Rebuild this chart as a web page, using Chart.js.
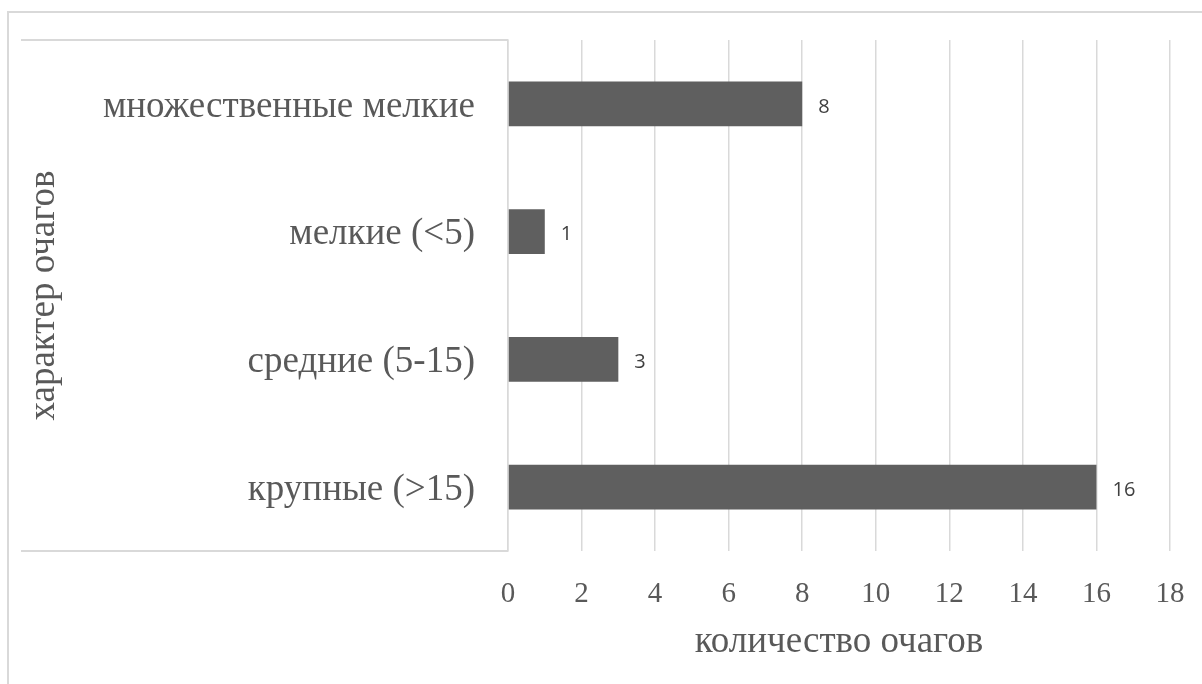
<!DOCTYPE html>
<html lang="ru">
<head>
<meta charset="utf-8">
<title>Характер очагов</title>
<script src="https://cdn.jsdelivr.net/npm/chart.js@4.4.1/dist/chart.umd.min.js"></script>
<style>
  html, body { margin: 0; padding: 0; background: #ffffff; }
  #wrap { position: relative; width: 1202px; height: 684px; overflow: hidden; }
  #frame {
    position: absolute; left: 7px; top: 11px; width: 1300px; height: 800px;
    border-top: 2px solid #d9d9d9; border-left: 2px solid #d9d9d9;
    box-sizing: border-box; pointer-events: none;
  }
  canvas { position: absolute; left: 0; top: 0; }
</style>
</head>
<body>
<div id="wrap">
  <div id="frame"></div>
  <canvas id="chart" width="1202" height="684"></canvas>
</div>
<script>
// Категории (сверху вниз) и количество очагов
const categories = ['множественные мелкие', 'мелкие (<5)', 'средние (5-15)', 'крупные (>15)'];
const counts = [8, 1, 3, 16];
const xTicks = [0, 2, 4, 6, 8, 10, 12, 14, 16, 18];
const xTitle = 'количество очагов';
const yTitle = 'характер очагов';

const serif = '"Liberation Serif", "Times New Roman", serif';

// Не даём подписям делений раздвигать область построения
function noScalePadding(scale) {
  scale.paddingTop = 0;
  scale.paddingBottom = 0;
  scale.paddingLeft = 0;
  scale.paddingRight = 0;
}

// Рамка области подписей категорий и подписи значений у столбцов
const decorations = {
  id: 'decorations',
  afterDraw(chart) {
    const { ctx, chartArea } = chart;
    ctx.save();
    ctx.strokeStyle = '#d9d9d9';
    ctx.lineWidth = 2;
    ctx.beginPath();
    ctx.moveTo(21, chartArea.top);
    ctx.lineTo(chartArea.left, chartArea.top);
    ctx.moveTo(21, chartArea.bottom);
    ctx.lineTo(chartArea.left, chartArea.bottom);
    ctx.stroke();

    const meta = chart.getDatasetMeta(0);
    ctx.fillStyle = '#404040';
    ctx.font = '20px "Open Sans", sans-serif';
    ctx.textAlign = 'left';
    ctx.textBaseline = 'middle';
    meta.data.forEach((bar, i) => {
      ctx.fillText(String(chart.data.datasets[0].data[i]), bar.x + 16, bar.y + 3);
    });
    ctx.restore();
  }
};

new Chart(document.getElementById('chart'), {
  type: 'bar',
  data: {
    labels: categories,
    datasets: [{
      data: counts,
      backgroundColor: '#5f5f5f',
      borderWidth: 0,
      categoryPercentage: 0.7,
      barPercentage: 0.5
    }]
  },
  options: {
    indexAxis: 'y',
    responsive: false,
    animation: false,
    layout: { padding: { top: 40, right: 32, bottom: 20, left: 22 } },
    plugins: {
      legend: { display: false },
      tooltip: { enabled: false }
    },
    scales: {
      x: {
        min: 0,
        max: 18,
        afterBuildTicks(scale) { scale.ticks = xTicks.map(v => ({ value: v })); },
        afterFit(scale) { scale.height = 113; noScalePadding(scale); },
        grid: { color: '#d9d9d9', lineWidth: 1.5, drawTicks: false },
        border: { display: false },
        ticks: {
          padding: 26,
          color: '#595959',
          font: { family: serif, size: 29 },
          maxRotation: 0
        },
        title: {
          display: true,
          text: xTitle,
          color: '#595959',
          font: { family: serif, size: 37 },
          padding: 0
        }
      },
      y: {
        afterFit(scale) { scale.width = 486; noScalePadding(scale); },
        grid: { display: false, drawTicks: false },
        border: { display: true, color: '#d9d9d9', width: 1.5 },
        ticks: {
          padding: 33,
          labelOffset: 3,
          color: '#595959',
          font: { family: serif, size: 37 }
        },
        title: {
          display: true,
          text: yTitle,
          color: '#595959',
          font: { family: serif, size: 37 },
          padding: 0
        }
      }
    }
  },
  plugins: [decorations]
});
</script>
</body>
</html>
